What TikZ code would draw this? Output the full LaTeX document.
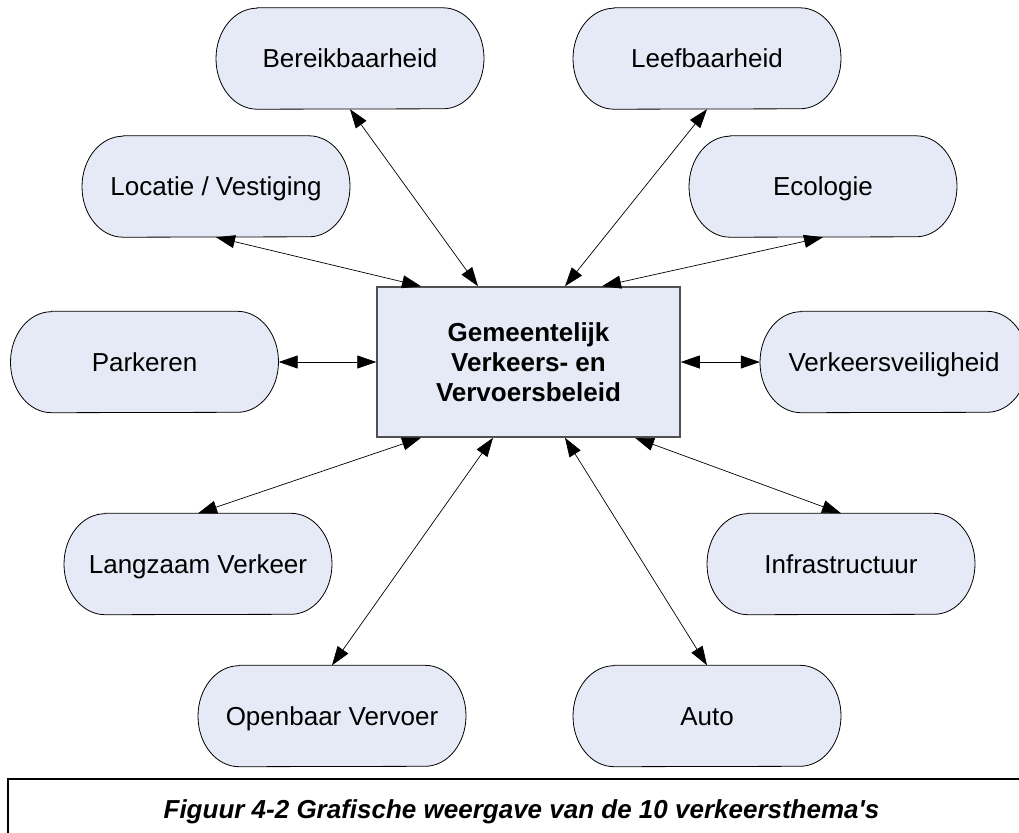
\documentclass[tikz,border=0pt]{standalone}
\usepackage{fontspec}
\setmainfont{Liberation Sans}
\usetikzlibrary{arrows.meta,backgrounds}

\definecolor{themafill}{HTML}{E6EAF6}
\definecolor{randgrijs}{HTML}{505050}

\tikzset{
  thema/.style={minimum width=268pt, minimum height=101pt, inner sep=0pt,
    font=\fontsize{26}{31}\selectfont, text height=18.5pt, text depth=0pt},
  pilrand/.style={draw=black, fill=themafill, line width=0.8pt},
  beleidbox/.style={draw=randgrijs, fill=themafill, line width=1.5pt,
    minimum width=303pt, minimum height=150pt, inner sep=0pt, align=center,
    font=\fontsize{26}{30}\selectfont\bfseries},
  pijl/.style={{Triangle[length=19pt,width=13pt]}-{Triangle[length=19pt,width=13pt]}, line width=0.7pt},
}

\begin{document}
\begin{tikzpicture}[x=1pt,y=1pt]
	\useasboundingbox (0,0) rectangle (1019,-832);
	\node[beleidbox] (beleid) at (528.5,-362) {Gemeentelijk\\Verkeers- en\\Vervoersbeleid};
	\node[thema] (bereik) at (350,-58.5) {Bereikbaarheid};
	\node[thema] (leefbaar) at (707,-58.5) {Leefbaarheid};
	\node[thema] (locatie) at (216,-186.5) {Locatie / Vestiging};
	\node[thema] (ecologie) at (823,-186.5) {Ecologie};
	\node[thema] (parkeren) at (144.5,-362) {Parkeren};
	\node[thema] (veiligheid) at (894,-362) {Verkeersveiligheid};
	\node[thema] (langzaam) at (198,-564) {Langzaam Verkeer};
	\node[thema] (infra) at (841,-564) {Infrastructuur};
	\node[thema] (ov) at (332,-716) {Openbaar Vervoer};
	\node[thema] (auto) at (707,-716) {Auto};
	% pilvormen achter de teksten
	\begin{scope}[on background layer]
		\foreach \t in {bereik,leefbaar,locatie,ecologie,parkeren,veiligheid,langzaam,infra,ov,auto}
			\draw[pilrand] ([xshift=-93pt]\t.north) -- ([xshift=93pt]\t.north)
				arc[start angle=90,end angle=-90,x radius=41pt,y radius=50.5pt]
				-- ([xshift=-93pt]\t.south)
				arc[start angle=270,end angle=90,x radius=41pt,y radius=50.5pt] -- cycle;
	\end{scope}
	% verbindingen
	\draw[pijl] (bereik.south) -- ([xshift=-50.5pt]beleid.north);
	\draw[pijl] (locatie.south) -- ([xshift=-107.5pt]beleid.north);
	\draw[pijl] (leefbaar.south) -- ([xshift=36.5pt]beleid.north);
	\draw[pijl] (ecologie.south) -- ([xshift=73.5pt]beleid.north);
	\draw[pijl] (parkeren.east) -- (beleid.west);
	\draw[pijl] (veiligheid.west) -- (beleid.east);
	\draw[pijl] (langzaam.north) -- ([xshift=-107.5pt]beleid.south);
	\draw[pijl] (ov.north) -- ([xshift=-35.5pt]beleid.south);
	\draw[pijl] (auto.north) -- ([xshift=36.5pt]beleid.south);
	\draw[pijl] (infra.north) -- ([xshift=106.5pt]beleid.south);
	% onderschrift
	\draw[line width=1.6pt] (8,-845) -- (8,-779) -- (1030,-779);
	\node[anchor=base, font=\fontsize{26}{31}\selectfont\bfseries\itshape] (caption) at (521.5,-818)
		{Figuur 4-2 Grafische weergave van de 10 verkeersthema\textquotesingle s};
\end{tikzpicture}
\end{document}
